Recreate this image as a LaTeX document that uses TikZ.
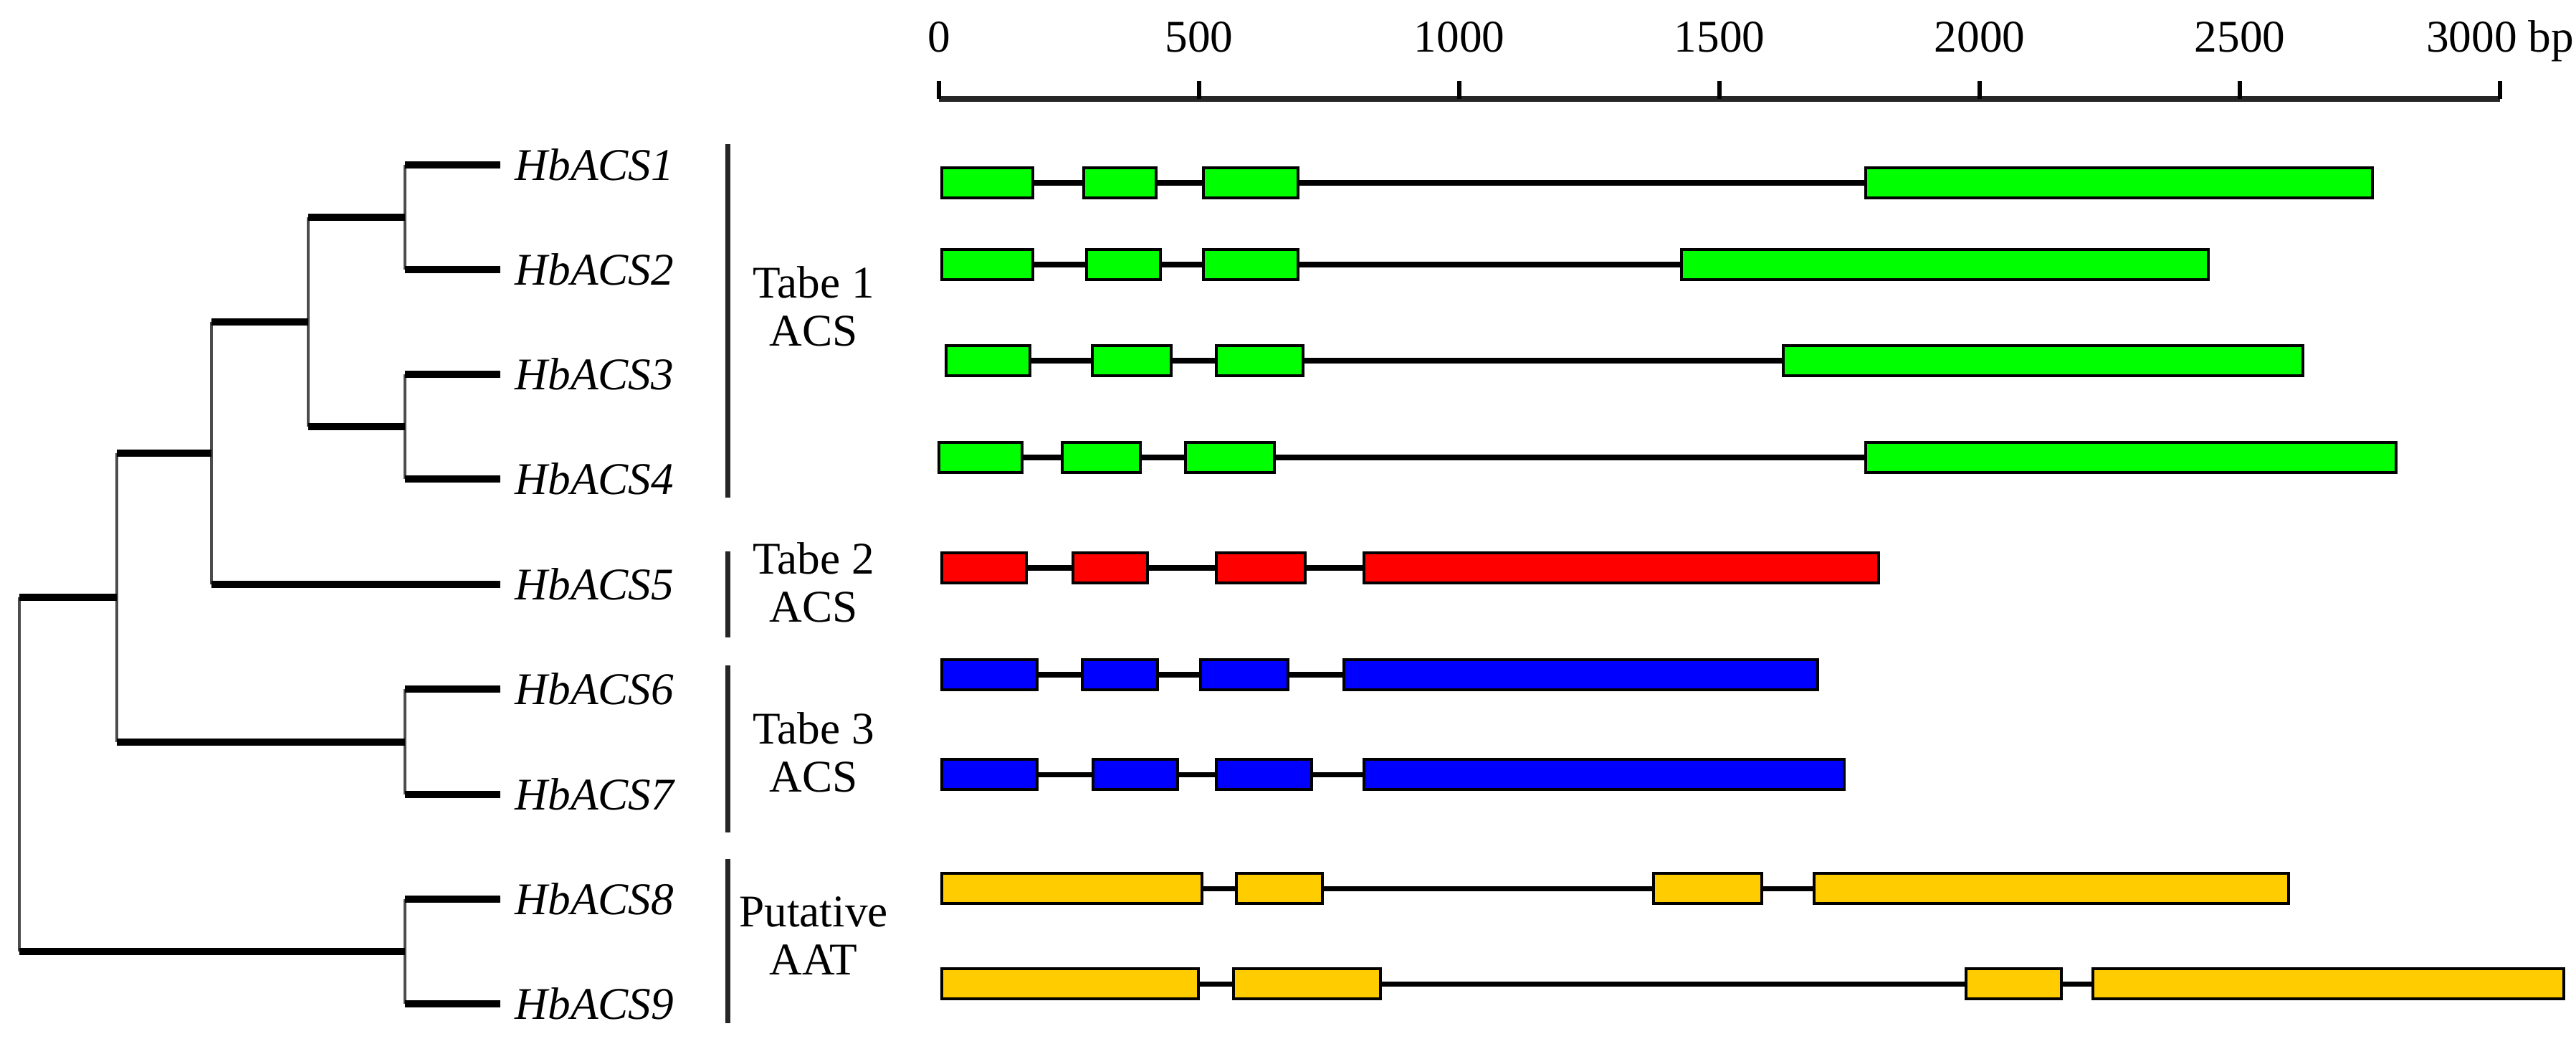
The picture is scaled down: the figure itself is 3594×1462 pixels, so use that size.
\documentclass[tikz,border=0pt]{standalone}
\usepackage{fontspec}
\setmainfont{Liberation Serif}
\newfontfamily\labelfont{Liberation Serif}
\definecolor{acsgreen}{HTML}{00FF00}
\definecolor{acsred}{HTML}{FF0000}
\definecolor{acsblue}{HTML}{0000FF}
\definecolor{aatyellow}{HTML}{FFCC00}
\tikzset{
  branch/.style={line width=3pt},
  stem/.style={line width=1.3pt, black!70},
  bracket/.style={line width=2pt, black!85},
  leaf/.style={font=\labelfont\fontsize{18}{19}\selectfont\itshape, anchor=west, inner sep=0pt},
  grp/.style={font=\labelfont\fontsize{18}{19}\selectfont, align=center, inner sep=0pt},
  ticklabel/.style={font=\labelfont\fontsize{18}{19}\selectfont, anchor=base, inner sep=0pt},
  exon/.style={draw=black, line width=1.2pt},
  intron/.style={line width=2pt}
}
\begin{document}
\begin{tikzpicture}[x=0.1mm, y=-0.1mm]
  \useasboundingbox (0,0) rectangle (3594,1462);

  % tree
  \foreach \i/\ty in {1/230, 2/376, 3/522, 4/668, 5/815, 6/961, 7/1108, 8/1254, 9/1400} {
    \coordinate (t\i) at (698,\ty);
    \node[leaf] (l\i) at (718,\ty) {HbACS\i};
  }
  \coordinate (n12) at (565,303);
  \coordinate (n34) at (565,595);
  \coordinate (n67) at (565,1035);
  \coordinate (n89) at (565,1327);
  \coordinate (n1234) at (430,449);
  \coordinate (n12345) at (295,632);
  \coordinate (n1to7) at (163,833);
  \coordinate (root) at (27,1080);

  \foreach \p/\a/\b in {n12/t1/t2, n34/t3/t4, n67/t6/t7, n89/t8/t9, n1234/n12/n34,
      n12345/n1234/t5, n1to7/n12345/n67, root/n1to7/n89}
    \draw[stem] (\p |- \a) -- (\p |- \b);
  \foreach \p/\a/\b in {n12/t1/t2, n34/t3/t4, n67/t6/t7, n89/t8/t9, n1234/n12/n34,
      n12345/n1234/t5, n1to7/n12345/n67, root/n1to7/n89} {
    \draw[branch] (\p |- \a) -- (\a);
    \draw[branch] (\p |- \b) -- (\b);
  }

  % groups
  \foreach \top/\bot in {201/694, 769/889, 928/1161, 1198/1427}
    \draw[bracket] (1015,\top) -- (1015,\bot);
  \node[grp] (g1) at (1135,427) {Tabe 1\\ACS};
  \node[grp] (g2) at (1135,812) {Tabe 2\\ACS};
  \node[grp] (g3) at (1135,1049) {Tabe 3\\ACS};
  \node[grp] (g4) at (1135,1305) {Putative\\AAT};

  % scale
  \draw[line width=2.4pt, black!85] (1310,138) -- (3488,138);
  \foreach \bp in {0,500,...,2500} {
    \draw[line width=1.5pt] ({1310+0.726*\bp},113) -- ({1310+0.726*\bp},138);
    \node[ticklabel] at ({1310+0.726*\bp},72) {\bp};
  }
  \draw[line width=1.5pt] (3488,113) -- (3488,138);
  \node[ticklabel] at (3488,72) {3000 bp};

  % gene structures
  \foreach \gy/\gcol/\gs/\ge/\gexons in {
      255/acsgreen/1314/3310/{1314/1441,1512/1613,1679/1811,2603/3310},
      369/acsgreen/1314/3081/{1314/1441,1516/1619,1679/1811,2346/3081},
      503/acsgreen/1320/3213/{1320/1437,1524/1634,1697/1818,2488/3213},
      638/acsgreen/1310/3343/{1310/1426,1482/1591,1654/1778,2603/3343},
      792/acsred/1314/2621/{1314/1432,1497/1601,1697/1821,1903/2621},
      941/acsblue/1314/2536/{1314/1447,1510/1615,1675/1797,1875/2536},
      1080/acsblue/1314/2573/{1314/1447,1525/1643,1697/1830,1903/2573},
      1239/aatyellow/1314/3193/{1314/1677,1725/1845,2307/2458,2531/3193},
      1372/aatyellow/1314/3577/{1314/1672,1721/1926,2743/2876,2920/3577}} {
    \draw[intron] (\gs,\gy) -- (\ge,\gy);
    \foreach \s/\e in \gexons
      \draw[exon, fill=\gcol] (\s,\gy-21) rectangle (\e,\gy+21);
  }
\end{tikzpicture}
\end{document}
